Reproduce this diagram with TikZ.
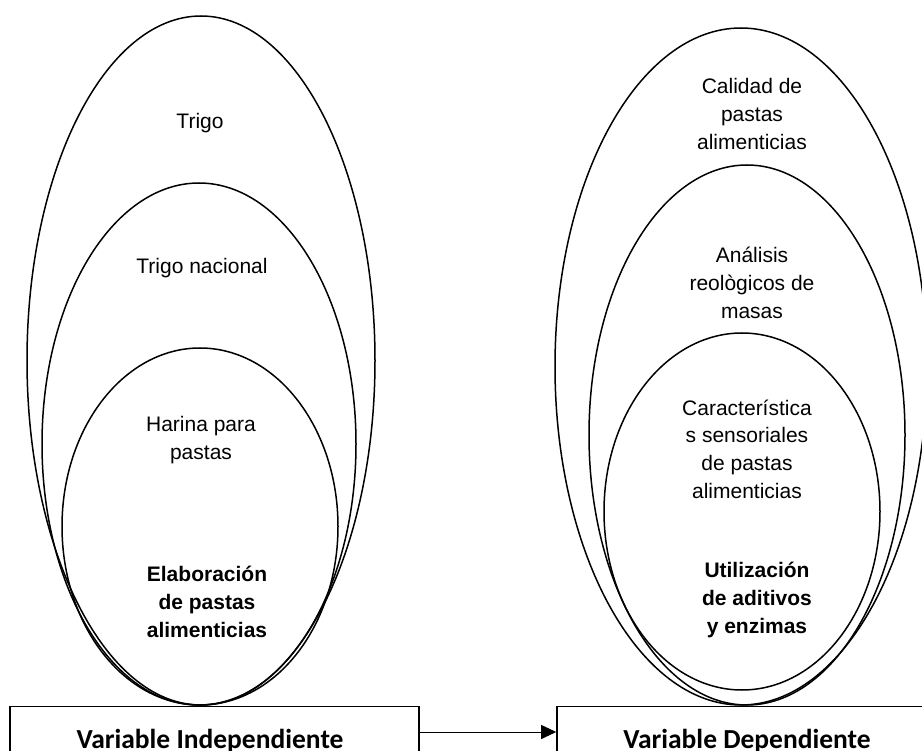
\documentclass[tikz,border=0pt]{standalone}
\usepackage{fontspec}
\setmainfont{Liberation Sans}
\newfontfamily\boxfont{Carlito}
\usetikzlibrary{arrows.meta}
\begin{document}
\begin{tikzpicture}[x=1pt,y=-1pt,
  ell/.style={draw=black,line width=1.5pt},
  lbl/.style={font=\fontsize{21}{27.7}\selectfont, align=center, inner sep=0pt},
  blbl/.style={font=\bfseries\fontsize{21}{27.7}\selectfont, align=center, inner sep=0pt},
  varbox/.style={draw=black,line width=1.6pt, inner sep=0pt, minimum height=51pt},
  vtext/.style={font=\boxfont\bfseries\fontsize{27.5}{30}\selectfont, anchor=base, inner sep=0pt},
  link/.style={line width=0.9pt, -{Triangle[length=15pt,width=14pt]}},
]
\useasboundingbox (0,0) rectangle (922,751);
\fill[white] (0,0) rectangle (922,751);
\clip (0,0) rectangle (922,751);

% left group
\draw[ell] (201,360.5) ellipse [x radius=174, y radius=344.5];
\draw[ell] (199,444) ellipse [x radius=157, y radius=261];
\draw[ell] (200,526.5) ellipse [x radius=138, y radius=178.5];
% right group
\draw[ell] (741,366.5) ellipse [x radius=186, y radius=338.5];
\draw[ell] (747,435) ellipse [x radius=158, y radius=270];
\draw[ell] (742,511.5) ellipse [x radius=138, y radius=178.5];

% texts
\node[lbl] (trigo) at (200,123) {Trigo};
\node[lbl] (nacional) at (202,268) {Trigo nacional};
\node[lbl] (harina) at (201,440) {Harina para\\pastas};
\node[blbl] (elab) at (207,602) {Elaboración\\de pastas\\alimenticias};

\node[lbl] (calidad) at (752,114) {Calidad de\\pastas\\alimenticias};
\node[lbl] (analisis) at (752,283) {Análisis\\reològicos de\\masas};
\node[lbl] (caract) at (747,449) {Característica\\s sensoriales\\de pastas\\alimenticias};
\node[blbl] (util) at (757,600) {Utilización\\de aditivos\\y enzimas};

% boxes
\node[varbox, minimum width=409pt] (lbox) at (214.5,732) {};
\node[varbox, minimum width=380pt] (rbox) at (747,732) {};
\node[vtext] (ltext) at (210,748) {Variable Independiente};
\node[vtext] (rtext) at (747,748) {Variable Dependiente};

\draw[link] (lbox.east) -- (rbox.west);
\end{tikzpicture}
\end{document}
